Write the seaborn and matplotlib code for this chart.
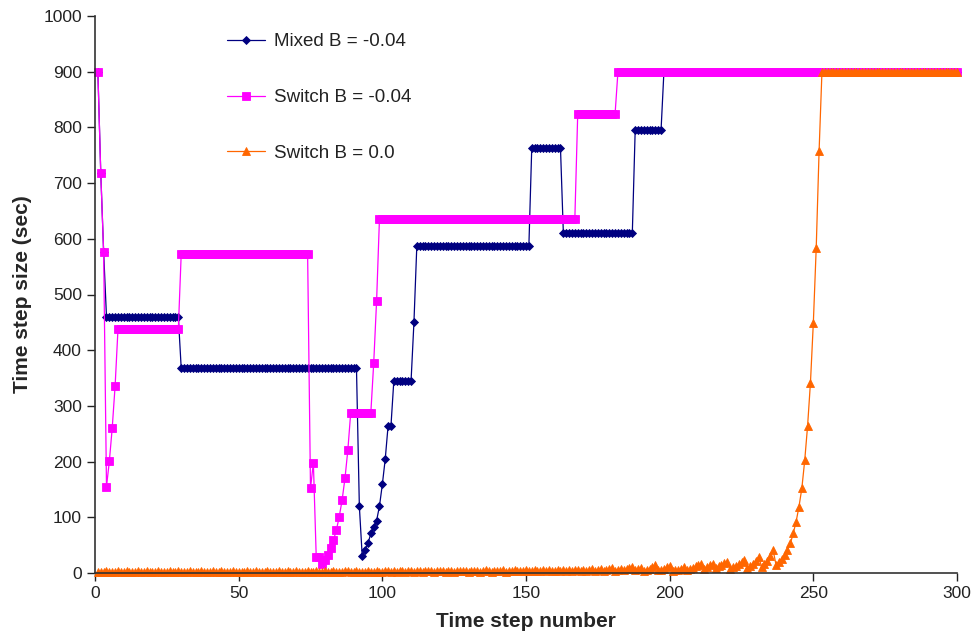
import numpy as np
import pandas as pd
import matplotlib
matplotlib.use("Agg")
import matplotlib.pyplot as plt
import seaborn as sns

# ---- data (run-length encoded step series) ----
mixed_levels = [900, 719, 577, 460, 368, 120, 30, 41, 53, 71, 82, 94, 120, 159, 204,
                264, 345, 450, 587, 763, 610, 795, 900]
mixed_runs = [1, 1, 1, 26, 62, 1, 1, 1, 1, 1, 1, 1, 1, 1, 1,
              2, 7, 1, 40, 11, 25, 10, 103]

switch_levels = [900, 719, 577, 155, 201, 261, 336, 438, 572, 152, 198, 28,
                 29, 17, 23, 32, 44, 59, 77, 101, 131, 170, 221,
                 288, 377, 488, 636, 824, 900]
switch_runs = [1, 1, 1, 1, 1, 1, 1, 22, 45, 1, 1, 1,
               1, 1, 1, 1, 1, 1, 1, 1, 1, 1, 1,
               8, 1, 1, 69, 14, 119]

switch0_values = [
    2, 1, 2, 3, 1, 2, 2, 3, 1, 2,
    3, 1, 2, 2, 3, 1, 2, 3, 2, 1,
    2, 3, 1, 2, 2, 3, 1, 2, 3, 2,
    1, 2, 3, 2, 1, 2, 3, 1, 2, 2,
    3, 1, 2, 3, 2, 1, 2, 3, 2, 1,
    2, 2, 3, 1, 2, 3, 2, 1, 2, 3,
    2, 1, 2, 3, 2, 2, 3, 1, 2, 3,
    2, 1, 2, 3, 2, 1, 3, 2, 2, 3,
    1, 2, 3, 2, 1, 2, 3, 3, 1, 2,
    3, 2, 1, 2, 3, 2, 2, 3, 1, 2,
    3, 4, 2, 3, 2, 4, 3, 2, 3, 4,
    2, 3, 4, 2, 3, 3, 4, 2, 3, 4,
    3, 2, 4, 3, 2, 4, 3, 3, 4, 2,
    3, 4, 3, 2, 4, 5, 3, 2, 4, 3,
    4, 5, 2, 3, 4, 5, 3, 4, 3, 5,
    4, 3, 5, 4, 3, 5, 4, 6, 3, 4,
    5, 4, 6, 3, 5, 4, 6, 5, 4, 6,
    3, 5, 7, 4, 6, 8, 4, 5, 7, 9,
    4, 6, 8, 5, 7, 9, 11, 5, 7, 9,
    4, 6, 8, 11, 14, 5, 6, 8, 10, 12,
    4, 5, 6, 8, 10, 5, 7, 9, 12, 14,
    17, 8, 11, 14, 17, 9, 12, 15, 18, 20,
    7, 10, 13, 16, 19, 23, 9, 13, 17, 22, 29,
    11, 16, 22, 30, 41,
    15, 20, 26, 33, 41, 53, 71, 92, 119, 152, 202, 264, 342, 449, 583, 757,
]
switch0_tail_level = 900
switch0_tail_run = 48

labels = ["Mixed B = -0.04", "Switch B = -0.04", "Switch B = 0.0"]
colors = ["#000080", "#FF00FF", "#FF6600"]
markers = ["D", "s", "^"]
msizes = [4.3, 6.0, 6.3]

x_ticks = [0, 50, 100, 150, 200, 250, 300]
y_ticks = [0, 100, 200, 300, 400, 500, 600, 700, 800, 900, 1000]

# ---- build series ----
mixed = np.repeat(mixed_levels, mixed_runs)
switch = np.repeat(switch_levels, switch_runs)
switch0 = np.concatenate([np.array(switch0_values),
                          np.repeat([switch0_tail_level], [switch0_tail_run])])
series = [mixed, switch, switch0]

sns.set_style("ticks")
plt.rcParams["font.family"] = ["Liberation Sans", "DejaVu Sans"]

fig = plt.figure(figsize=(9.73, 6.43), dpi=100)
ax = fig.add_axes([95 / 973, 1 - 573 / 643, (957 - 95) / 973, (573 - 16) / 643])

for y, lab, c, m, ms in zip(series, labels, colors, markers, msizes):
    steps = np.arange(1, len(y) + 1)
    df = pd.DataFrame({"step": steps, "value": y})
    sns.lineplot(data=df, x="step", y="value", ax=ax, color=c, marker=m,
                 markersize=ms, markeredgecolor=c, markeredgewidth=0.6,
                 linewidth=0.9, label=lab, clip_on=False)

ax.set_xlim(0, 300)
ax.set_ylim(0, 1000)
ax.set_xticks(x_ticks)
ax.set_yticks(y_ticks)
ax.tick_params(axis="both", labelsize=12.5, length=6, width=1, colors="#222222",
               direction="out")
ax.set_xlabel("Time step number", fontsize=15, fontweight="bold", labelpad=8)
ax.set_ylabel("Time step size (sec)", fontsize=15, fontweight="bold", labelpad=8)
for s in ["top", "right"]:
    ax.spines[s].set_visible(False)
for s in ["left", "bottom"]:
    ax.spines[s].set_color("#333333")
    ax.spines[s].set_linewidth(1.2)

leg = ax.legend(loc="upper left", bbox_to_anchor=(218 / 973, 1 - 24 / 643),
                bbox_transform=fig.transFigure, frameon=False, fontsize=13.5,
                labelspacing=2.05, handlelength=2.0, handletextpad=0.5,
                borderpad=0, numpoints=1)
for t in leg.get_texts():
    t.set_color("#222222")

fig.savefig("out.png", dpi=100)
